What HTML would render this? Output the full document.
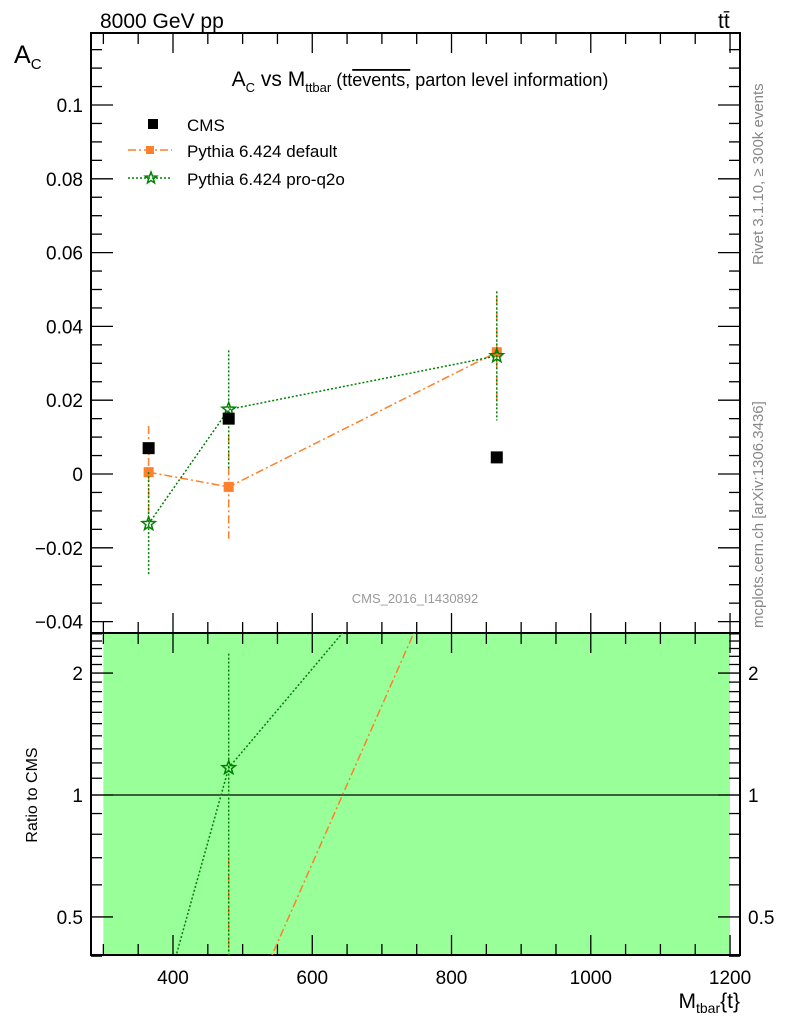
<!DOCTYPE html>
<html><head><meta charset="utf-8"><style>
body{margin:0;background:#fff;}
svg{display:block;font-family:"Liberation Sans",sans-serif;}
</style></head><body>
<svg id="c" width="786" height="1024" viewBox="0 0 786 1024">
<text x="100" y="28" font-size="21">8000 GeV pp</text>
<text x="718" y="28" font-size="21">tt̄</text>
<text x="14" y="63" font-size="25">A<tspan font-size="15" dy="6">C</tspan></text>
<text x="420" y="86" font-size="21" text-anchor="middle">A<tspan font-size="13" dy="6">C</tspan><tspan dy="-6"> vs M</tspan><tspan font-size="13" dy="6">ttbar</tspan><tspan dy="-6" font-size="18"> (tt</tspan><tspan font-size="18" text-decoration="overline">events,</tspan><tspan font-size="18"> parton level information)</tspan></text>
<text transform="translate(763,265) rotate(-90)" font-size="15" fill="#888">Rivet 3.1.10, ≥ 300k events</text>
<text transform="translate(763,628) rotate(-90)" font-size="15" fill="#888">mcplots.cern.ch [arXiv:1306.3436]</text>
<text x="415" y="603" font-size="13" fill="#999" text-anchor="middle">CMS_2016_I1430892</text>
<text transform="translate(37,795) rotate(-90)" font-size="16" text-anchor="middle">Ratio to CMS</text>
<text x="740" y="1008" font-size="21" text-anchor="end">M<tspan font-size="14" dy="5">tbar</tspan><tspan dy="-5">{t}</tspan></text>
<g id="g"></g>
</svg>
<script>
const xs = [365, 480, 865];
const cmsVals = [0.007, 0.015, 0.0045];
const defVals = [0.0005, -0.0035, 0.033];
const defUp = [0.013, 0.0105, 0.048];
const defDn = [-0.012, -0.0175, 0.018];
const q2oVals = [-0.0135, 0.0175, 0.032];
const q2oUp = [0.0005, 0.0335, 0.0495];
const q2oDn = [-0.0275, 0.0015, 0.0145];
const yTicks = [-0.04, -0.02, 0, 0.02, 0.04, 0.06, 0.08, 0.1];
const yTickLabels = ["\u22120.04", "\u22120.02", "0", "0.02", "0.04", "0.06", "0.08", "0.1"];
const xTicks = [400, 600, 800, 1000, 1200];
const rTicks = [0.5, 1, 2];
const ratioFloor = 0.23;

const L=91, R=740, T=33, B=633, RB=955;
const X = m => 173 + (m-400)*0.6963;
const Y = v => 474 - v*3690;
const RY = r => 795 - Math.log10(Math.max(r, ratioFloor))*405;
const NS="http://www.w3.org/2000/svg", g=document.getElementById('g');
function el(t,a,p){const e=document.createElementNS(NS,t);for(const k in a)e.setAttribute(k,a[k]);(p||g).appendChild(e);return e;}

let band=el('rect',{x:X(300),y:B,width:X(1200)-X(300),height:RB-B,fill:'#99ff99'});


let one=el('line',{x1:L,x2:R,y1:RY(1),y2:RY(1),stroke:'#000','stroke-width':1.2});



let f1=el('rect',{x:L,y:T,width:R-L,height:B-T,fill:'none',stroke:'#000','stroke-width':2});


let f2=el('rect',{x:L,y:B,width:R-L,height:RB-B,fill:'none',stroke:'#000','stroke-width':2});



function tk(x1,y1,x2,y2){el('line',{x1,y1,x2,y2,stroke:'#000','stroke-width':1.3});}
for(let m=300;m<=1200;m+=50){const x=X(m),len=(m%200==0)?20:11;
 tk(x,T,x,T+len);tk(x,B,x,B-len);tk(x,B,x,B+len);tk(x,RB,x,RB-len);}
xTicks.forEach(m=>{const t=el('text',{x:X(m),y:RB+29,'font-size':19,'text-anchor':'middle'});t.textContent=m;
 
 });
for(let v=-0.04;v<=0.1195;v+=0.005){const y=Y(v),maj=Math.abs(Math.round(v*1000)%20)<1e-6,len=maj?22:11;
 tk(L,y,L+len,y);tk(R,y,R-len,y);}
yTicks.forEach((v,i)=>{const t=el('text',{x:L-8,y:Y(v)+7,'font-size':19,'text-anchor':'end'});t.textContent=yTickLabels[i];
 
 });
const rMinor=[0.4,0.5,0.6,0.7,0.8,0.9,1,1.1,1.2,1.3,1.4,1.5,1.6,1.7,1.8,1.9,2,2.1,2.2,2.3,2.4,2.5];
rMinor.forEach(r=>{const y=RY(r),len=rTicks.includes(r)?22:11;tk(L,y,L+len,y);tk(R,y,R-len,y);});
rTicks.forEach(r=>{const t=el('text',{x:L-8,y:RY(r)+7,'font-size':19,'text-anchor':'end'});t.textContent=r;
 
 
 const t2=el('text',{x:R+8,y:RY(r)+7,'font-size':19});t2.textContent=r;
 
 });

function star(cx,cy,r,color,parent){let p='';for(let i=0;i<10;i++){const a=-Math.PI/2+i*Math.PI/5,rr=i%2?r*0.42:r;p+=(cx+rr*Math.cos(a))+','+(cy+rr*Math.sin(a))+' ';}
 return el('polygon',{points:p,fill:'none',stroke:color,'stroke-width':1.5},parent);}

const defs=el('defs',{});
const cp=el('clipPath',{id:'cm'},defs);el('rect',{x:L,y:T,width:R-L,height:B-T},cp);
const cr=el('clipPath',{id:'cr'},defs);el('rect',{x:L,y:B,width:R-L,height:RB-B},cr);
const gm=el('g',{'clip-path':'url(#cm)'});
const gr=el('g',{'clip-path':'url(#cr)'});

function series(vals,up,dn,color,dash,kind,name){
 const pts=xs.map((m,i)=>X(m)+','+Y(vals[i])).join(' ');
 const l=el('polyline',{points:pts,fill:'none',stroke:color,'stroke-width':1.5,'stroke-dasharray':dash},gm);
 
 
 xs.forEach((m,i)=>{
  const e=el('line',{x1:X(m),x2:X(m),y1:Y(up[i]),y2:Y(dn[i]),stroke:color,'stroke-width':1.5,'stroke-dasharray':dash},gm);
  
  
  let mk;
  if(kind=='sq') mk=el('rect',{x:X(m)-5,y:Y(vals[i])-5,width:10,height:10,fill:color},gm);
  else mk=star(X(m),Y(vals[i]),7,color,gm);
  
  
 });
 const rp=xs.map((m,i)=>X(m)+','+RY(vals[i]/cmsVals[i])).join(' ');
 const rl=el('polyline',{points:rp,fill:'none',stroke:color,'stroke-width':1.5,'stroke-dasharray':dash},gr);
 
 
 xs.forEach((m,i)=>{const r=vals[i]/cmsVals[i];
  if(r>0 && r<0.4) return;
  const re=el('line',{x1:X(m),x2:X(m),y1:RY(up[i]/cmsVals[i]),y2:RY(dn[i]/cmsVals[i]),stroke:color,'stroke-width':1.5,'stroke-dasharray':dash},gr);
  
  
  if(r>0.4&&r<2.5){const mk=kind=='sq'?el('rect',{x:X(m)-5,y:RY(r)-5,width:10,height:10,fill:color},gr):star(X(m),RY(r),7,color,gr);
   
   }
 });
}
series(defVals,defUp,defDn,'#ff7f2a','8,3,2,3','sq','pythia-default');
series(q2oVals,q2oUp,q2oDn,'#008000','2,2','star','pythia-pro-q2o');
cmsVals.forEach((v,i)=>{const r=el('rect',{x:X(xs[i])-6,y:Y(v)-6,width:12,height:12,fill:'#000'},gm);
 
 });

const lg=el('g',{});


el('rect',{x:148,y:119,width:10,height:10,fill:'#000'},lg);
el('line',{x1:128,x2:172,y1:150,y2:150,stroke:'#ff7f2a','stroke-width':1.5,'stroke-dasharray':'8,3,2,3'},lg);
el('rect',{x:146,y:146,width:8,height:8,fill:'#ff7f2a'},lg);
el('line',{x1:128,x2:172,y1:178,y2:178,stroke:'#008000','stroke-width':1.5,'stroke-dasharray':'2,2'},lg);
star(151,178,6,'#008000',lg);
[['CMS',131,'legend-entry-cms'],['Pythia 6.424 default',157,'legend-entry-default'],['Pythia 6.424 pro-q2o',185,'legend-entry-pro-q2o']].forEach(a=>{
 const t=el('text',{x:187,y:a[1],'font-size':17},lg);t.textContent=a[0];
 
 });
</script>
</body></html>
